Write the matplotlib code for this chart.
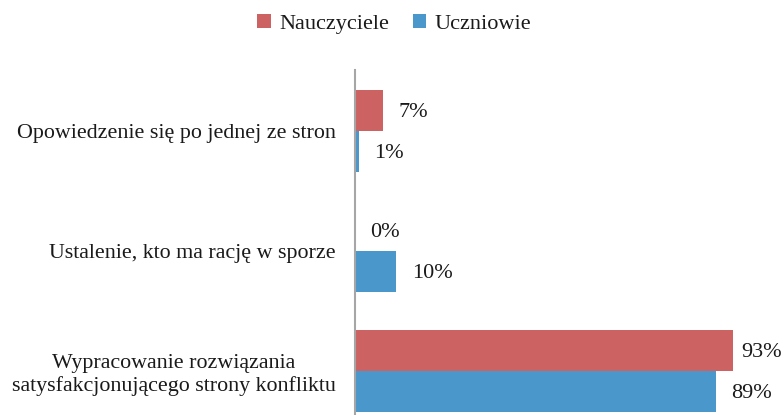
import matplotlib.pyplot as plt
import numpy as np

# dane z wykresu
kategorie = ['Opowiedzenie się po jednej ze stron',
             'Ustalenie, kto ma rację w sporze',
             'Wypracowanie rozwiązania\nsatysfakcjonującego strony konfliktu']
nauczyciele = [7, 0, 93]
uczniowie = [1, 10, 89]

kolor_n = '#CD6262'
kolor_u = '#4A98CB'

plt.rcParams['font.family'] = ['Liberation Serif', 'DejaVu Serif']

fig = plt.figure(figsize=(7.84, 4.15), dpi=100)
ax = fig.add_axes([355 / 784, 0, 406 / 784, 1 - 70 / 415])

y = np.arange(len(kategorie))
h = 0.342
bn = ax.barh(y - h / 2, nauczyciele, height=h, color=kolor_n, label='Nauczyciele')
bu = ax.barh(y + h / 2, uczniowie, height=h, color=kolor_u, label='Uczniowie')

# etykiety wartości
pad_n = [11, 11, 6]
pad_u = [11, 12, 11]
for rect, v, p in zip(bn, nauczyciele, pad_n):
    ax.annotate(f'{v}%', (rect.get_width(), rect.get_y() + rect.get_height() / 2),
                xytext=(p, 0), textcoords='offset points', ha='left', va='center_baseline',
                fontsize=16, color='#1a1a1a')
for rect, v, p in zip(bu, uczniowie, pad_u):
    ax.annotate(f'{v}%', (rect.get_width(), rect.get_y() + rect.get_height() / 2),
                xytext=(p, 0), textcoords='offset points', ha='left', va='center_baseline',
                fontsize=16, color='#1a1a1a')

ax.set_xlim(0, 100)
ax.set_ylim(2.367, -0.508)
ax.set_yticks(y)
ax.set_yticklabels(kategorie, fontsize=15.8, color='#1a1a1a', multialignment='center',
                   linespacing=1.2)
for t in ax.get_yticklabels():
    t.set_va('center_baseline')
ax.tick_params(axis='y', length=0, pad=14)
ax.set_xticks([])
for s in ['top', 'right', 'bottom']:
    ax.spines[s].set_visible(False)
ax.spines['left'].set_color('#A6A6A6')
ax.spines['left'].set_linewidth(1.5)

fig.legend(loc='center', bbox_to_anchor=(0.503, 0.942), ncol=2, frameon=False,
           fontsize=16, handlelength=0.6, handleheight=0.6, handletextpad=0.4,
           columnspacing=1.05, labelcolor='#1a1a1a')

fig.savefig('out.png', dpi=100)
